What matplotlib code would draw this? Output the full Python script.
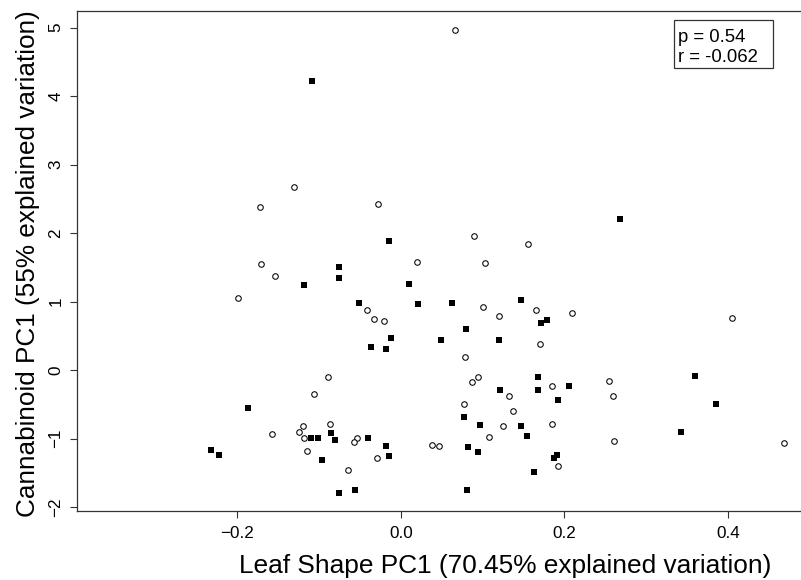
import matplotlib
matplotlib.use("Agg")
import matplotlib.pyplot as plt
from matplotlib.patches import Rectangle

plt.rcParams['font.family'] = ['Liberation Sans', 'DejaVu Sans']

# Filled squares
sq_x = [-0.109, -0.015, -0.0758, -0.0763, -0.118, 0.268, 0.0098, -0.0518, -0.0122, -0.0371,
        -0.0188, -0.1875, -0.086, -0.1105, -0.1015, -0.0807, -0.0404, -0.0188, -0.2328, -0.223,
        -0.015, -0.097, -0.0563, -0.0758, 0.0208, 0.062, 0.1468, 0.1782, 0.1713, 0.0795,
        0.0489, 0.1195, 0.1676, 0.36, 0.1207, 0.1672, 0.2055, 0.192, 0.385, 0.0771,
        0.0962, 0.1468, 0.3425, 0.1537, 0.082, 0.0938, 0.1905, 0.1876, 0.1623, 0.0803]
sq_y = [4.22, 1.89, 1.51, 1.35, 1.24, 2.20, 1.255, 0.983, 0.467, 0.34,
        0.311, -0.555, -0.92, -0.993, -0.993, -1.022, -0.993, -1.109, -1.168, -1.236,
        -1.251, -1.314, -1.752, -1.791, 0.968, 0.983, 1.022, 0.73, 0.69, 0.599,
        0.442, 0.442, -0.097, -0.083, -0.287, -0.287, -0.234, -0.438, -0.492, -0.686,
        -0.798, -0.813, -0.9, -0.959, -1.119, -1.197, -1.241, -1.28, -1.484, -1.752]

# Open circles
ci_x = [-0.1305, -0.172, -0.0285, -0.1717, -0.1537, 0.0665, 0.0893, 0.155, 0.0192, 0.1031,
        -0.1998, -0.042, -0.0326, -0.0204, -0.0889, -0.106, -0.1203, -0.0869, -0.158, -0.1243,
        -0.1183, -0.0538, -0.0575, -0.1154, -0.0294, -0.0644, 0.0999, 0.1655, 0.2092, 0.1203,
        0.4053, 0.1697, 0.0783, 0.0938, 0.0869, 0.2544, 0.1851, 0.1321, 0.2597, 0.0775,
        0.1366, 0.1252, 0.1843, 0.108, 0.0379, 0.0465, 0.261, 0.4685, 0.1924]
ci_y = [2.667, 2.38, 2.42, 1.55, 1.37, 4.97, 1.96, 1.835, 1.57, 1.557,
        1.056, 0.876, 0.745, 0.715, -0.107, -0.355, -0.813, -0.793, -0.93, -0.905,
        -0.997, -0.988, -1.056, -1.178, -1.28, -1.464, 0.925, 0.876, 0.837, 0.788,
        0.759, 0.384, 0.195, -0.097, -0.18, -0.161, -0.234, -0.375, -0.384, -0.501,
        -0.603, -0.813, -0.793, -0.978, -1.09, -1.105, -1.041, -1.066, -1.401]

x_ticks = [-0.2, 0.0, 0.2, 0.4]
x_ticklabels = ["\u22120.2", "0.0", "0.2", "0.4"]
y_ticks = [-2, -1, 0, 1, 2, 3, 4, 5]
y_ticklabels = ["\u22122", "\u22121", "0", "1", "2", "3", "4", "5"]
stats_lines = ["p = 0.54", "r = -0.062"]
xlabel = "Leaf Shape PC1 (70.45% explained variation)"
ylabel = "Cannabinoid PC1 (55% explained variation)"

W, H = 801, 580
fig = plt.figure(figsize=(W / 100, H / 100), dpi=100)
L, R, T, B = 77.3, 806, 11, 511
ax = fig.add_axes([L / W, 1 - B / H, (R - L) / W, (B - T) / H])

ax.plot(sq_x, sq_y, linestyle='none', marker='s', markersize=3.9,
        markerfacecolor='black', markeredgecolor='black', markeredgewidth=0)
ax.plot(ci_x, ci_y, linestyle='none', marker='o', markersize=4.0,
        markerfacecolor='white', markeredgecolor='black', markeredgewidth=0.75)

ax.set_xlim(-0.396, 0.4957)
ax.set_ylim(-2.058, 5.241)
ax.set_xticks(x_ticks)
ax.set_xticklabels(x_ticklabels)
ax.set_yticks(y_ticks)
ax.set_yticklabels(y_ticklabels, rotation=90, va='center')
ax.tick_params(axis='both', direction='out', length=5, width=0.8, labelsize=12.3,
               color='#333333')
ax.tick_params(axis='x', pad=6)
ax.tick_params(axis='y', pad=5)
for s in ax.spines.values():
    s.set_linewidth(0.9)
    s.set_color('#333333')

fig.text(505 / W, 1 - 566 / H, xlabel, ha='center', va='center', fontsize=18.9)
fig.text(28 / W, 1 - 264 / H, ylabel, ha='center', va='center', rotation=90, fontsize=18.8)

# stats box
bx0, bx1, by0, by1 = 674, 772.5, 20, 68.3
fig.add_artist(Rectangle((bx0 / W, 1 - by1 / H), (bx1 - bx0) / W, (by1 - by0) / H,
                         transform=fig.transFigure, facecolor='white',
                         edgecolor='#333333', linewidth=0.9))
fig.text(678.5 / W, 1 - 41.5 / H, stats_lines[0], ha='left', va='baseline', fontsize=13.3)
fig.text(678.5 / W, 1 - 62 / H, stats_lines[1], ha='left', va='baseline', fontsize=13.3)

fig.savefig("out.png", dpi=100)
